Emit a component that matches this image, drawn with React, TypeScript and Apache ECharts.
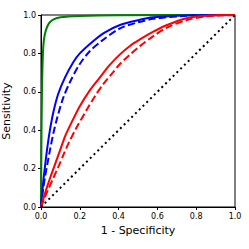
import React, { useEffect, useRef } from "react";
import * as echarts from "echarts";

// ROC curves: [1 - specificity, sensitivity]
const greenSolid: number[][] = [
  [0, 0], [0.002, 0.3], [0.005, 0.6], [0.01, 0.8], [0.015, 0.87], [0.025, 0.92],
  [0.04, 0.955], [0.06, 0.975], [0.1, 0.988], [0.2, 0.995], [0.4, 0.999], [1, 1],
];
const blueSolid: number[][] = [
  [0, 0], [0.004, 0.05], [0.01, 0.115], [0.018, 0.19], [0.03, 0.29], [0.046, 0.4],
  [0.065, 0.5], [0.089, 0.59], [0.124, 0.675], [0.167, 0.755], [0.2, 0.8],
  [0.27, 0.865], [0.33, 0.91], [0.407, 0.948], [0.5, 0.973], [0.579, 0.988],
  [0.75, 0.998], [1, 1],
];
const blueDashed: number[][] = [
  [0, 0], [0.005, 0.045], [0.012, 0.1], [0.022, 0.165], [0.033, 0.225], [0.047, 0.3],
  [0.064, 0.385], [0.085, 0.47], [0.115, 0.57], [0.149, 0.65], [0.197, 0.74],
  [0.25, 0.81], [0.313, 0.865], [0.407, 0.93], [0.5, 0.962], [0.579, 0.98],
  [0.75, 0.996], [1, 1],
];
const redSolid: number[][] = [
  [0, 0], [0.01, 0.035], [0.025, 0.085], [0.05, 0.16], [0.075, 0.23], [0.1, 0.3],
  [0.125, 0.37], [0.15, 0.425], [0.2, 0.525], [0.25, 0.605], [0.304, 0.675],
  [0.35, 0.735], [0.407, 0.795], [0.46, 0.84], [0.51, 0.873], [0.579, 0.913],
  [0.65, 0.948], [0.751, 0.983], [0.85, 0.996], [1, 1],
];
const redDashed: number[][] = [
  [0, 0], [0.01, 0.025], [0.03, 0.075], [0.063, 0.15], [0.09, 0.21], [0.115, 0.27],
  [0.141, 0.33], [0.184, 0.415], [0.235, 0.505], [0.28, 0.58], [0.321, 0.64],
  [0.37, 0.7], [0.407, 0.745], [0.46, 0.795], [0.51, 0.838], [0.579, 0.89],
  [0.65, 0.935], [0.75, 0.973], [0.85, 0.993], [1, 1],
];
const diagonal: number[][] = [[0, 0], [1, 1]];

const xName = "1 - Specificity";
const yName = "Sensitivity";

export default function App() {
  const ref = useRef<HTMLDivElement>(null);
  useEffect(() => {
    if (!ref.current) return;
    const chart = echarts.init(ref.current, undefined, { renderer: "svg" });
    const font = "DejaVu Sans";
    const axisCommon = {
      type: "value" as const,
      min: 0,
      max: 1,
      interval: 0.2,
      nameLocation: "middle" as const,
      nameTextStyle: { fontFamily: font, fontSize: 11, color: "#000" },
      axisLine: { show: true, lineStyle: { color: "#000", width: 1 } },
      axisTick: { show: true, length: 3, lineStyle: { color: "#000", width: 1 } },
      splitLine: { show: false },
      axisLabel: {
        fontFamily: font,
        fontSize: 8,
        color: "#000",
        formatter: (v: number) => v.toFixed(1),
      },
    };
    const line = (data: number[][], color: string, type: any, width = 2) => ({
      type: "line",
      data,
      showSymbol: false,
      symbol: "none",
      smooth: 0.3,
      lineStyle: { color, width, type, cap: "butt" },
      clip: true,
    });
    chart.setOption({
      animation: false,
      grid: {
        left: 41,
        top: 15,
        right: 14,
        bottom: 42,
        containLabel: false,
        outerBoundsMode: "none",
        show: true,
        borderColor: "#000",
        borderWidth: 1,
        backgroundColor: "transparent",
      },
      xAxis: { ...axisCommon, name: xName, nameGap: 18, axisLabel: { ...axisCommon.axisLabel, margin: 5 } },
      yAxis: { ...axisCommon, name: yName, nameGap: 24, axisLabel: { ...axisCommon.axisLabel, margin: 5 } },
      series: [
        line(greenSolid, "#008000", "solid"),
        line(blueSolid, "#0000ff", "solid"),
        line(blueDashed, "#0000ff", [7.4, 3.2]),
        line(redSolid, "#ff0000", "solid"),
        line(redDashed, "#ff0000", [7.4, 3.2]),
        { ...line(diagonal, "#000", [2, 3.3]), smooth: false },
      ],
    });
    return () => chart.dispose();
  }, []);
  return (
    <div
      ref={ref}
      style={{ position: "fixed", left: 0, top: 0, width: 249, height: 249, background: "#fff" }}
    />
  );
}
